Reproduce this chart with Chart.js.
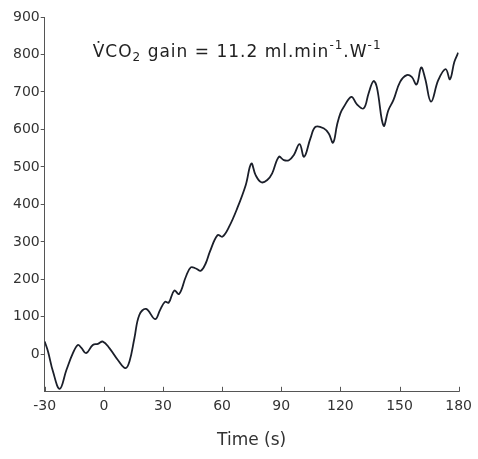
<!DOCTYPE html>
<html>
<head>
<meta charset="utf-8">
<script src="https://cdn.jsdelivr.net/npm/chart.js@4"></script>
<style>
  html, body { margin: 0; padding: 0; background: #fff; }
  #wrap { width: 478px; height: 459px; }
</style>
</head>
<body>
<div id="wrap"><canvas id="myChart"></canvas></div>
<script>
// time (s) and VCO2 response
const times = [-30, -28.3, -25.8, -22.4, -19, -15.7, -13.2, -11.5, -9, -5.6, -3, -0.5, 2.9, 7.1, 11, 13, 15.5, 18, 21.4, 26,
  28.5, 31, 32.9, 35.7, 38.2, 41.6, 44.1, 46.7, 49.2, 51.7, 53.8, 57.7, 60.2, 63.5, 67.7, 72, 74.8, 77, 79.9, 82.9,
  85.4, 88.8, 91.3, 93.9, 96.4, 99.3, 101.6, 104.8, 107.4, 111.5, 114.1, 116.3, 118.3, 120, 121.7, 125.6, 128.4, 131.8, 134.3, 136.8,
  138.5, 141.9, 144.4, 146.9, 150.3, 153.7, 156.2, 158.7, 161, 163, 166, 169.7, 173.4, 175.6, 177.8, 179.8];
const vco2 = [34, 7, -46, -92, -42, 3, 25, 18, 3, 25, 28, 34, 16, -15, -37, -19, 43, 105, 121, 94,
  118, 140, 138, 170, 161, 207, 232, 229, 223, 243, 274, 318, 314, 340, 390, 452, 509, 478, 459, 465,
  483, 527, 518, 518, 532, 561, 527, 576, 607, 603, 589, 565, 612, 643, 660, 687, 667, 656, 696, 729,
  713, 610, 652, 678, 727, 745, 740, 720, 765, 736, 674, 732, 761, 734, 780, 805];

const xTicks = [-30, 0, 30, 60, 90, 120, 150, 180];
const yTicks = [0, 100, 200, 300, 400, 500, 600, 700, 800, 900];
// annotation pieces: [text, kind] where kind is normal / sub / sup
const note = [['V\u0307CO', 'n'], ['2', 'sub'], [' gain = 11.2 ml.min', 'n'], ['-1', 'sup'], ['.W', 'n'], ['-1', 'sup']];

const axisColor = '#555';
const textColor = '#333';

const innerTicks = {
  id: 'innerTicks',
  afterDraw(chart) {
    const c = chart.ctx, x = chart.scales.x, a = chart.chartArea;
    c.save();
    // x ticks point up into the plot
    c.strokeStyle = axisColor;
    c.lineWidth = 1;
    xTicks.forEach(v => {
      const px = Math.round(x.getPixelForValue(v)) + 0.5;
      c.beginPath();
      c.moveTo(px, a.bottom);
      c.lineTo(px, a.bottom - 5);
      c.stroke();
    });
    // gain annotation
    c.fillStyle = '#222';
    c.textBaseline = 'alphabetic';
    c.letterSpacing = '1px';
    let tx = a.left + 48;
    const base = 57;
    note.forEach(([s, k]) => {
      let dy = 0;
      if (k === 'n') c.font = '17px "DejaVu Sans"';
      else { c.font = '12px "DejaVu Sans"'; dy = k === 'sub' ? 4 : -8; }
      c.fillText(s, tx, base + dy);
      tx += c.measureText(s).width;
    });
    c.restore();
  }
};

const ctx = document.getElementById('myChart');
new Chart(ctx, {
  type: 'line',
  data: {
    datasets: [{
      data: times.map((t, i) => ({ x: t, y: vco2[i] })),
      borderColor: '#1b1f2a',
      borderWidth: 1.8,
      pointRadius: 0,
      tension: 0.4,
      fill: false
    }]
  },
  options: {
    responsive: true,
    maintainAspectRatio: false,
    animation: false,
    layout: { padding: { left: 12, right: 18, top: 17, bottom: 4 } },
    plugins: { legend: { display: false }, tooltip: { enabled: false } },
    scales: {
      x: {
        type: 'linear',
        min: -30,
        max: 180,
        afterBuildTicks: s => { s.ticks = xTicks.map(v => ({ value: v })); },
        ticks: { color: textColor, font: { family: 'DejaVu Sans', size: 14 }, padding: 6, maxRotation: 0 },
        grid: { drawOnChartArea: false, drawTicks: false },
        border: { color: axisColor },
        title: { display: true, text: 'Time (s)', color: textColor, font: { family: 'DejaVu Sans', size: 17 }, padding: { top: 10 } }
      },
      y: {
        min: -100,
        max: 900,
        afterBuildTicks: s => { s.ticks = yTicks.map(v => ({ value: v })); },
        ticks: { color: textColor, font: { family: 'DejaVu Sans', size: 14 }, padding: 1 },
        grid: { drawOnChartArea: false, tickLength: 4, color: axisColor },
        border: { color: axisColor }
      }
    }
  },
  plugins: [innerTicks]
});
</script>
</body>
</html>
